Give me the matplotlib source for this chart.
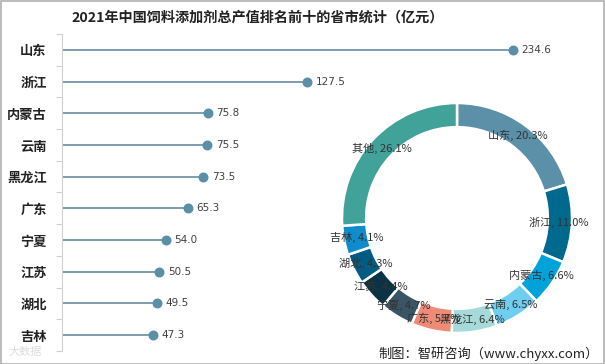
import numpy as np
import matplotlib.pyplot as plt
from matplotlib.patches import Rectangle

plt.rcParams['font.family'] = ['Noto Sans CJK SC', 'DejaVu Sans']

# --- data ---
provinces = ['山东', '浙江', '内蒙古', '云南', '黑龙江', '广东', '宁夏', '江苏', '湖北', '吉林']
values = [234.6, 127.5, 75.8, 75.5, 73.5, 65.3, 54.0, 50.5, 49.5, 47.3]

share_labels = ['山东', '浙江', '内蒙古', '云南', '黑龙江', '广东', '宁夏', '江苏', '湖北', '吉林', '其他']
shares = [20.3, 11.0, 6.6, 6.5, 6.4, 5.7, 4.7, 4.4, 4.3, 4.1, 26.1]
share_colors = ['#5b90a8', '#006a8e', '#00a3d9', '#6fcdf0', '#a6dada', '#ee8b76',
                '#3a5566', '#0c3345', '#005c82', '#0e8ccb', '#41a29a']

W, H = 605, 364
fig = plt.figure(figsize=(W / 100, H / 100), dpi=100)
fig.patches.append(Rectangle((0.5 / W, 0.5 / H), 1 - 1.5 / W, 1 - 1.5 / H, transform=fig.transFigure,
                             fill=False, edgecolor='#b0b0b0', linewidth=1.2))

# --- lollipop chart ---
x0, y_top, y_bot, x_right = 62, 34, 351, 600
ax = fig.add_axes([x0 / W, (H - y_bot) / H, (x_right - x0) / W, (y_bot - y_top) / H])
ypos = np.arange(len(provinces))[::-1]
ax.hlines(ypos, 0, values, color='#5a8296', linewidth=1.1)
ax.scatter(values, ypos, s=38, color='#5b8fa8', zorder=3)
for v, y in zip(values, ypos):
    ax.text(v + 4.5, y, f'{v:.1f}', va='center', ha='left', fontsize=7.5, color='#404040',
            family=['DejaVu Sans'])
ax.set_xlim(0, (x_right - x0) / 1.922)
ax.set_ylim(-0.5, len(provinces) - 0.5)
ax.set_yticks(ypos)
ax.set_yticklabels(provinces, fontsize=9.5, fontweight='bold', color='#222222')
ax.set_yticks(np.arange(-0.5, len(provinces)), minor=True)
ax.tick_params(axis='y', which='major', length=0, pad=11)
ax.tick_params(axis='y', which='minor', length=4, color='#d0d0d0', width=0.8)
ax.set_xticks([])
for s in ['top', 'right', 'bottom']:
    ax.spines[s].set_visible(False)
ax.spines['left'].set_color('#d0d0d0')
ax.patch.set_alpha(0)

# --- donut chart ---
cx, cy, r = 457, 218, 115
ax2 = fig.add_axes([(cx - r) / W, (H - cy - r) / H, 2 * r / W, 2 * r / H])
ax2.pie(shares, colors=share_colors, startangle=90, counterclock=False, radius=1,
        wedgeprops=dict(width=0.21, edgecolor='white', linewidth=1.8))
ax2.set_xlim(-1, 1)
ax2.set_ylim(-1, 1)
ax2.set_aspect('equal')
bounds = np.cumsum([0] + shares) / sum(shares)
for i, lab in enumerate(share_labels):
    mid = (bounds[i] + bounds[i + 1]) / 2 * 2 * np.pi
    ax2.text(0.89 * np.sin(mid), 0.89 * np.cos(mid), f'{lab}, {shares[i]:.1f}%',
             ha='center', va='center', fontsize=8, color='#333333')

# --- texts ---
fig.text(258 / W, 1 - 18 / H, '2021年中国饲料添加剂总产值排名前十的省市统计（亿元）',
         ha='center', va='center', fontsize=10.2, fontweight='bold', color='#222222')
fig.text(1 - 6 / W, 1 - 354 / H, '制图：智研咨询（www.chyxx.com）', ha='right', va='center',
         fontsize=9.5, color='#222222')
fig.text(8 / W, 1 - 352 / H, '大数据', ha='left', va='center', fontsize=8, color='#dddddd')

fig.savefig('out.png', dpi=100)
